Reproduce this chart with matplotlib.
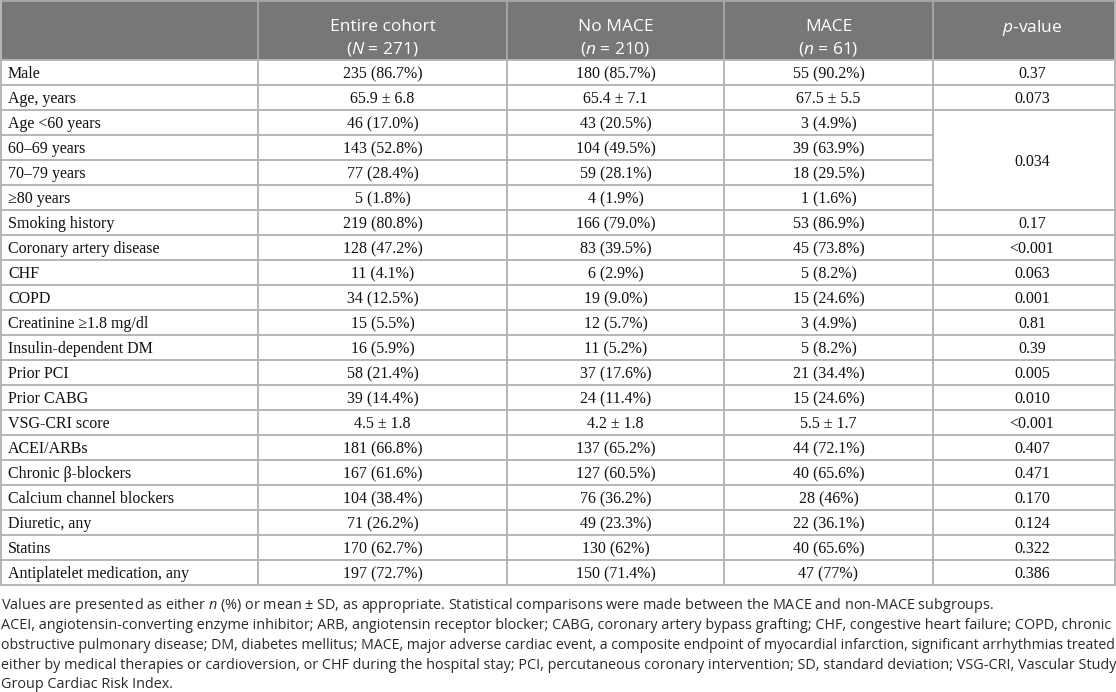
import matplotlib
matplotlib.use("Agg")
import matplotlib.pyplot as plt
from matplotlib.patches import Rectangle

plt.rcParams['mathtext.fontset'] = 'custom'
plt.rcParams['mathtext.rm'] = 'Open Sans'
plt.rcParams['mathtext.it'] = 'Open Sans:italic'

# table content
head_top = ["", "Entire cohort", "No MACE", "MACE", ""]
head_bot = ["", r"($\mathit{N}$ = 271)", r"($\mathit{n}$ = 210)", r"($\mathit{n}$ = 61)", ""]
head_single = r"$\mathit{p}$-value"

labels = ["Male", "Age, years", "Age <60 years", "60–69 years", "70–79 years",
          "≥80 years", "Smoking history", "Coronary artery disease", "CHF", "COPD",
          "Creatinine ≥1.8 mg/dl", "Insulin-dependent DM", "Prior PCI", "Prior CABG",
          "VSG-CRI score", "ACEI/ARBs", "Chronic β-blockers", "Calcium channel blockers",
          "Diuretic, any", "Statins", "Antiplatelet medication, any"]
entire = ["235 (86.7%)", "65.9 ± 6.8", "46 (17.0%)", "143 (52.8%)", "77 (28.4%)",
          "5 (1.8%)", "219 (80.8%)", "128 (47.2%)", "11 (4.1%)", "34 (12.5%)",
          "15 (5.5%)", "16 (5.9%)", "58 (21.4%)", "39 (14.4%)", "4.5 ± 1.8",
          "181 (66.8%)", "167 (61.6%)", "104 (38.4%)", "71 (26.2%)", "170 (62.7%)",
          "197 (72.7%)"]
no_mace = ["180 (85.7%)", "65.4 ± 7.1", "43 (20.5%)", "104 (49.5%)", "59 (28.1%)",
           "4 (1.9%)", "166 (79.0%)", "83 (39.5%)", "6 (2.9%)", "19 (9.0%)",
           "12 (5.7%)", "11 (5.2%)", "37 (17.6%)", "24 (11.4%)", "4.2 ± 1.8",
           "137 (65.2%)", "127 (60.5%)", "76 (36.2%)", "49 (23.3%)", "130 (62%)",
           "150 (71.4%)"]
mace = ["55 (90.2%)", "67.5 ± 5.5", "3 (4.9%)", "39 (63.9%)", "18 (29.5%)",
        "1 (1.6%)", "53 (86.9%)", "45 (73.8%)", "5 (8.2%)", "15 (24.6%)",
        "3 (4.9%)", "5 (8.2%)", "21 (34.4%)", "15 (24.6%)", "5.5 ± 1.7",
        "44 (72.1%)", "40 (65.6%)", "28 (46%)", "22 (36.1%)", "40 (65.6%)",
        "47 (77%)"]
# p-values: (first row, last row, text)
pvals = [(0, 0, "0.37"), (1, 1, "0.073"), (2, 5, "0.034"), (6, 6, "0.17"),
         (7, 7, "<0.001"), (8, 8, "0.063"), (9, 9, "0.001"), (10, 10, "0.81"),
         (11, 11, "0.39"), (12, 12, "0.005"), (13, 13, "0.010"), (14, 14, "<0.001"),
         (15, 15, "0.407"), (16, 16, "0.471"), (17, 17, "0.170"), (18, 18, "0.124"),
         (19, 19, "0.322"), (20, 20, "0.386")]

notes = [
    r"Values are presented as either $\mathit{n}$ (%) or mean ± SD, as appropriate. Statistical comparisons were made between the MACE and non-MACE subgroups.",
    "ACEI, angiotensin-converting enzyme inhibitor; ARB, angiotensin receptor blocker; CABG, coronary artery bypass grafting; CHF, congestive heart failure; COPD, chronic",
    "obstructive pulmonary disease; DM, diabetes mellitus; MACE, major adverse cardiac event, a composite endpoint of myocardial infarction, significant arrhythmias treated",
    "either by medical therapies or cardioversion, or CHF during the hospital stay; PCI, percutaneous coronary intervention; SD, standard deviation; VSG-CRI, Vascular Study",
    "Group Cardiac Risk Index.",
]

# layout (pixels)
W, H = 1116, 692
col_w = [257, 249, 217, 209, 182]
x0, y0 = 1, 1
head_h = 59
row_h = 25
head_bg = "#777777"
grid = "#b5b5b5"
ink = "#111111"
serif = ["Liberation Serif", "DejaVu Serif"]
sans = ["Open Sans", "DejaVu Sans"]

edges = [x0]
for w in col_w:
    edges.append(edges[-1] + w)
n_rows = len(labels)
body_top = y0 + head_h
bottom = body_top + n_rows * row_h
centers = [(edges[i] + edges[i + 1]) / 2 for i in range(5)]
centers[4] += 8  # p-value column text sits right of centre in the source

fig = plt.figure(figsize=(W / 100, H / 100), dpi=100)
ax = fig.add_axes([0, 0, 1, 1])
ax.set_xlim(0, W)
ax.set_ylim(H, 0)
ax.axis("off")

# header
ax.add_patch(Rectangle((edges[0], y0), edges[-1] - edges[0], head_h,
                       facecolor=head_bg, edgecolor="none"))
for i in range(1, 4):
    ax.text(centers[i], y0 + 30, head_top[i], ha="center", va="baseline",
            color="white", fontsize=12.5, family=sans)
    ax.text(centers[i], y0 + 53, head_bot[i], ha="center", va="baseline",
            color="white", fontsize=12.5, family=sans)
ax.text(centers[4], y0 + 31, head_single, ha="center", va="baseline",
        color="white", fontsize=12.5, family=sans)
for e in edges[1:-1]:
    ax.plot([e, e], [y0, body_top], color="#a5a5a5", lw=1.4)
ax.plot([edges[0], edges[-1]], [y0, y0], color="#a5a5a5", lw=1.4)

# body cells
cols = [entire, no_mace, mace]
for r in range(n_rows):
    by = body_top + (r + 1) * row_h - 7
    ax.text(edges[0] + 7, by, labels[r], ha="left", va="baseline", fontsize=11.5,
            family=serif, color=ink)
    for c, vals in enumerate(cols):
        ax.text(centers[c + 1], by, vals[r], ha="center", va="baseline",
                fontsize=11.5, family=serif, color=ink)

for r0, r1, txt in pvals:
    mid = body_top + (r0 + r1 + 1) / 2 * row_h
    ax.text(centers[4], round(mid + 5.5), txt, ha="center", va="baseline",
            fontsize=11.5, family=serif, color=ink)

# grid lines
merged = set()
for r0, r1, _ in pvals:
    for r in range(r0 + 1, r1 + 1):
        merged.add(r)
for r in range(n_rows + 1):
    y = body_top + r * row_h
    right = edges[4] if r in merged else edges[-1]
    ax.plot([edges[0], right], [y, y], color=grid, lw=1.4)
for e in edges:
    ax.plot([e, e], [body_top, bottom], color=grid, lw=1.4)
ax.plot([edges[0], edges[0]], [y0, body_top], color=grid, lw=1.4)
ax.plot([edges[-1], edges[-1]], [y0, body_top], color=grid, lw=1.4)

# footnotes, shrunk per line when a line would run past the right edge
note_base = [609, 629, 649, 669, 688]
max_w = W - 4
renderer = fig.canvas.get_renderer()
for y, line in zip(note_base, notes):
    t = ax.text(1, y, line, ha="left", va="baseline", fontsize=10.4, family=sans,
                color="#2a2a2a")
    w = t.get_window_extent(renderer).width
    if w > max_w:
        t.set_fontsize(10.4 * max_w / w)

fig.savefig("out.png", dpi=100)
